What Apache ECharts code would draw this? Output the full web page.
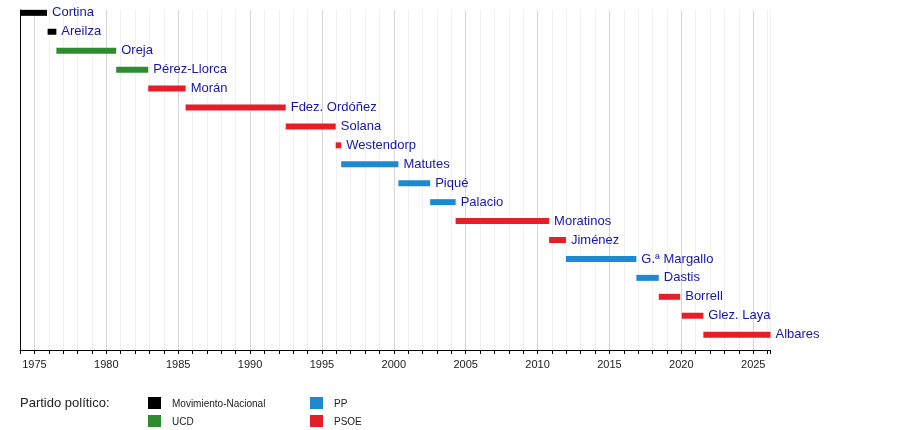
<!DOCTYPE html>
<html>
<head>
<meta charset="utf-8">
<script src="https://cdn.jsdelivr.net/npm/echarts@6/dist/echarts.min.js"></script>
<style>
html,body{margin:0;padding:0;background:#fff;}
#c{width:900px;height:430px;}
</style>
</head>
<body>
<div id="c"></div>
<script>
const ministers = ['Cortina','Areilza','Oreja','Pérez-Llorca','Morán','Fdez. Ordóñez','Solana','Westendorp','Matutes','Piqué','Palacio','Moratinos','Jiménez','G.ª Margallo','Dastis','Borrell','Glez. Laya','Albares'];
const startYears = [1974.0,1975.92,1976.53,1980.69,1982.92,1985.52,1992.48,1995.96,1996.34,2000.32,2002.53,2004.30,2010.80,2011.97,2016.87,2018.43,2020.03,2021.53];
const endYears   = [1975.88,1976.53,1980.69,1982.92,1985.52,1992.48,1995.96,1996.34,2000.32,2002.53,2004.30,2010.80,2011.97,2016.87,2018.43,2019.92,2021.53,2026.2];
const partyOf    = ['Movimiento-Nacional','Movimiento-Nacional','UCD','UCD','PSOE','PSOE','PSOE','PSOE','PP','PP','PP','PSOE','PSOE','PP','PP','PSOE','PSOE','PSOE'];
const parties = ['Movimiento-Nacional','UCD','PP','PSOE'];
const partyColors = {'Movimiento-Nacional':'#000000','UCD':'#2e8b2e','PP':'#1e88d0','PSOE':'#e61e28'};
const legendTitle = 'Partido político:';

const data = ministers.map((m,i)=>[i,startYears[i],endYears[i],partyOf[i],m]);

const chart = echarts.init(document.getElementById('c'));

const FONT = '"Liberation Sans", Arial, sans-serif';
const legendGraphics = [{
  type:'text', x:20, y:397,
  style:{text:legendTitle, font:'13px ' + FONT, fill:'#222'}
}];
const legendPos = [[148,397],[148,415],[310,397],[310,415]];
parties.forEach((p,i)=>{
  legendGraphics.push({type:'rect', shape:{x:legendPos[i][0],y:legendPos[i][1],width:13,height:12}, style:{fill:partyColors[p]}});
  legendGraphics.push({type:'text', x:legendPos[i][0]+24, y:legendPos[i][1]+2,
    style:{text:p, font:'10px ' + FONT, fill:'#222'}});
});

chart.setOption({
  animation:false,
  grid:{left:20, right:129.5, top:10, bottom:80},
  xAxis:{
    type:'value', position:'bottom', min:1974, max:2026.2, interval:1,
    axisLine:{show:true, onZero:false, lineStyle:{color:'#000', width:1}},
    axisTick:{show:true, length:4, lineStyle:{color:'#000'}},
    axisLabel:{
      margin:9, color:'#222', fontSize:11, fontFamily:FONT,
      formatter:v=> (Math.abs(v - Math.round(v))<1e-6 && Math.round(v)%5===0) ? String(Math.round(v)) : ''
    },
    splitLine:{show:true, lineStyle:{color:['#f0f0f0','#d6d6d6','#f0f0f0','#f0f0f0','#f0f0f0'], width:1}}
  },
  yAxis:{
    type:'value', inverse:true, min:-0.15, max:17.81,
    axisLine:{show:true, onZero:false, lineStyle:{color:'#000'}},
    axisTick:{show:false}, axisLabel:{show:false}, splitLine:{show:false}
  },
  graphic: legendGraphics,
  series:[{
    type:'custom',
    data:data,
    encode:{x:[1,2], y:0},
    renderItem:(params, api)=>{
      const row = api.value(0);
      const s = api.coord([api.value(1), row]);
      const e = api.coord([api.value(2), row]);
      const h = 6;
      const party = partyOf[params.dataIndex];
      return {
        type:'group',
        children:[
          {type:'rect', shape:{x:s[0], y:s[1]-h/2, width:e[0]-s[0], height:h}, style:{fill:partyColors[party]}},
          {type:'text', x:e[0]+5, y:s[1], style:{text:ministers[params.dataIndex], font:'13px ' + FONT, fill:'#1616aa', verticalAlign:'middle', textAlign:'left'}}
        ]
      };
    }
  }]
});
</script>
</body>
</html>
